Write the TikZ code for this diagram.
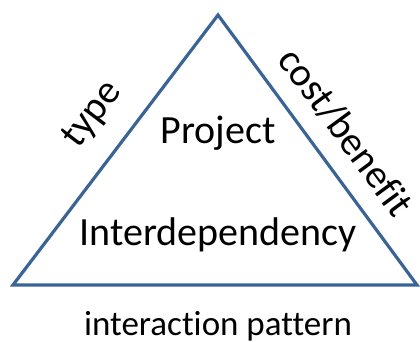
\documentclass[tikz,border=0pt]{standalone}
\usepackage{fontspec}
\setmainfont[RawFeature=-liga]{Carlito}
\begin{document}
\begin{tikzpicture}[x=1pt,y=-1pt,
  lbl/.style={inner sep=0pt, font=\fontsize{40}{46}\selectfont},
  lblb/.style={inner sep=0pt, font=\fontsize{35}{40}\selectfont},
  tri/.style={draw=edgeblue, line width=3.2pt, line join=miter}]
\definecolor{edgeblue}{HTML}{3A6496}
\useasboundingbox (0,0) rectangle (420,341);
\coordinate (apex) at (218,15);
\coordinate (bl) at (13,285);
\coordinate (br) at (417,285);
\draw[tri] (bl) -- (apex) -- (br) -- cycle;
\node[lbl] (project) at (218,133) {Project};
\node[lbl] (interdep) at (218,235) {Interdependency};
\node[lbl, rotate=52.8] (type) at (93,115) {type};
\node[lbl, rotate=-53.6] (cost) at (346,132) {cost/benefit};
\node[lblb] (pattern) at (218,326) {interaction pattern};
\end{tikzpicture}
\end{document}
